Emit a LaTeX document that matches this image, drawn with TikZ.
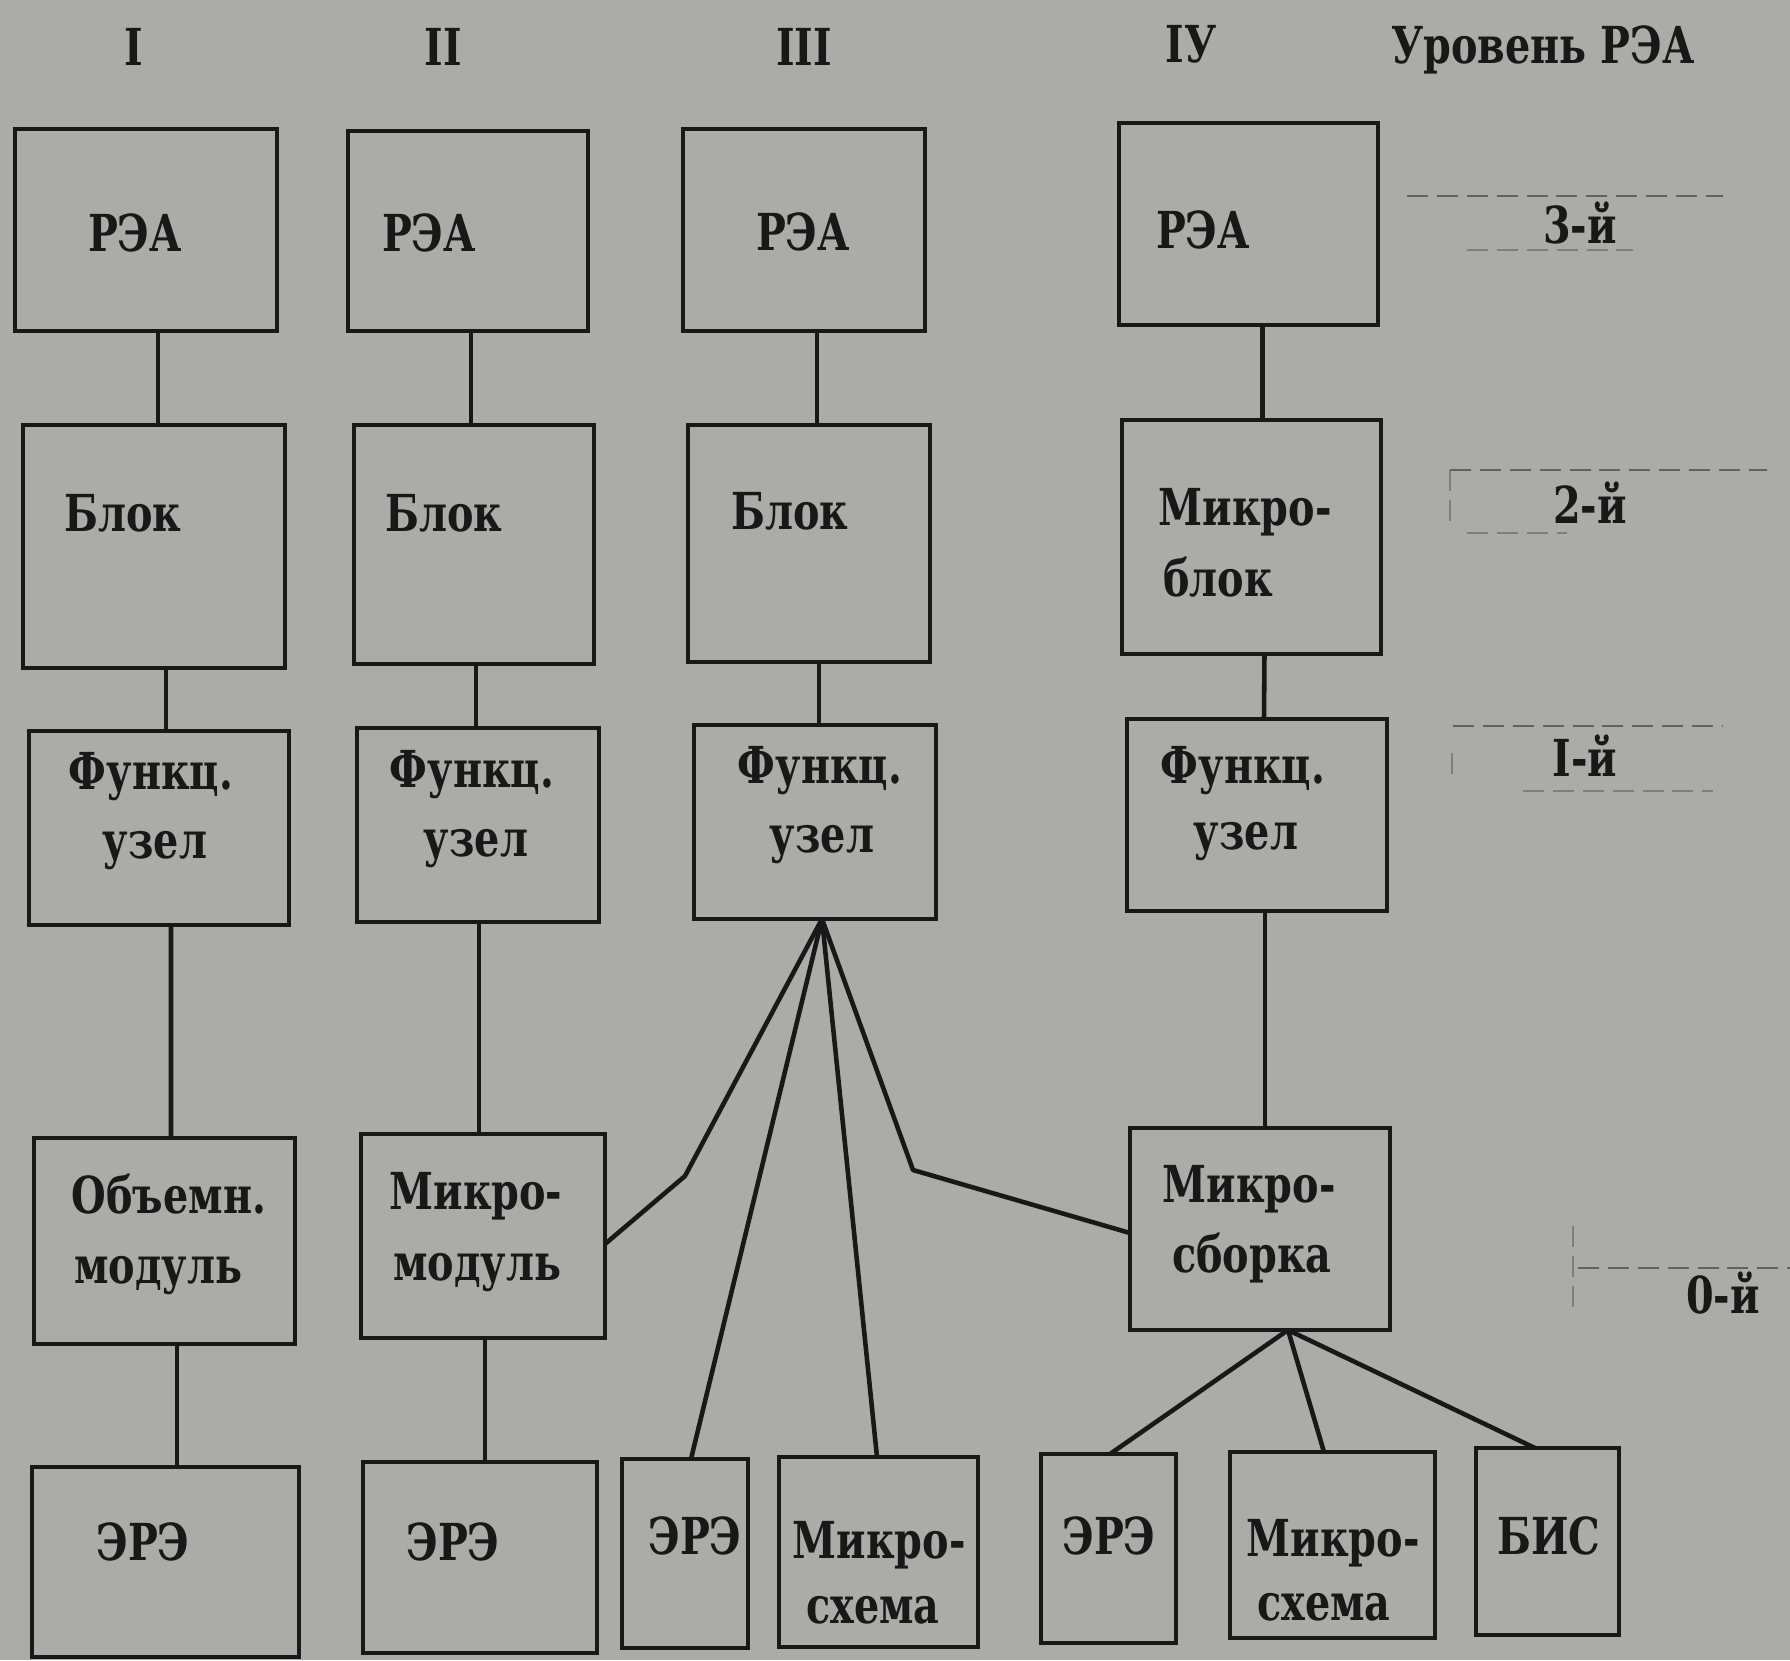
\documentclass[tikz,border=0pt]{standalone}
\usepackage{fontspec}
\newfontfamily\tw[FakeStretch=0.78]{DejaVu Serif}
\usetikzlibrary{fit,calc}
\definecolor{paper}{RGB}{171,171,167}
\definecolor{ink}{RGB}{24,24,24}
\tikzset{
 box/.style={draw=ink, line width=1.3pt, inner sep=0pt, outer sep=0pt, rectangle},
 lbl/.style={anchor=base, inner sep=0pt, text=ink, font=\tw\bfseries\fontsize{14.5}{17}\selectfont},
 link/.style={draw=ink, line width=1.3pt},
 lvl/.style={draw=ink, line width=0.6pt, dash pattern=on 6pt off 2.5pt, opacity=0.5},
 lvlf/.style={lvl, opacity=0.3},
}
\begin{document}
\begin{tikzpicture}[x=0.1mm, y=-0.1mm]
\fill[paper] (0,0) rectangle (1790,1660);
\useasboundingbox (0,0) rectangle (1790,1660);

% headers
\node[lbl] (h1) at (134,65) {I};
\node[lbl] (h2) at (443,65) {II};
\node[lbl] (h3) at (804,65) {III};
\node[lbl] (h4) at (1191,62) {IУ};
\node[lbl] (h5) at (1543,63) {Уровень РЭА};

% column I
\node[box, fit={(15,129) (277,331)}] (r1) {};
\node[box, fit={(23,425) (285,668)}] (b1) {};
\node[box, fit={(29,731) (289,925)}] (f1) {};
\node[box, fit={(34,1138) (295,1344)}] (o1) {};
\node[box, fit={(32,1467) (299,1657)}] (e1) {};
% column II
\node[box, fit={(348,131) (588,331)}] (r2) {};
\node[box, fit={(354,425) (594,664)}] (b2) {};
\node[box, fit={(357,728) (599,922)}] (f2) {};
\node[box, fit={(361,1134) (605,1338)}] (m2) {};
\node[box, fit={(363,1462) (597,1653)}] (e2) {};
% column III
\node[box, fit={(683,129) (925,331)}] (r3) {};
\node[box, fit={(688,425) (930,662)}] (b3) {};
\node[box, fit={(694,725) (936,919)}] (f3) {};
\node[box, fit={(622,1459) (748,1648)}] (e3) {};
\node[box, fit={(779,1457) (978,1647)}] (mc3) {};
% column IV
\node[box, fit={(1119,123) (1378,325)}] (r4) {};
\node[box, fit={(1122,420) (1381,654)}] (mb4) {};
\node[box, fit={(1127,719) (1387,911)}] (f4) {};
\node[box, fit={(1130,1128) (1390,1330)}] (ms4) {};
\node[box, fit={(1041,1454) (1176,1643)}] (e4) {};
\node[box, fit={(1230,1452) (1435,1638)}] (mc4) {};
\node[box, fit={(1476,1448) (1619,1635)}] (bis) {};

% texts column I
\node[lbl] (tr1) at (135,251) {РЭА};
\node[lbl] (tb1) at (123,531) {Блок};
\node[lbl] (tf1a) at (151,789) {Функц.};
\node[lbl] (tf1b) at (155,858) {узел};
\node[lbl] (to1a) at (169,1213) {Объемн.};
\node[lbl] (to1b) at (158,1283) {модуль};
\node[lbl] (te1) at (143,1560) {ЭРЭ};
% texts column II
\node[lbl] (tr2) at (429,251) {РЭА};
\node[lbl] (tb2) at (444,531) {Блок};
\node[lbl] (tf2a) at (472,787) {Функц.};
\node[lbl] (tf2b) at (476,856) {узел};
\node[lbl] (tm2a) at (476,1209) {Микро-};
\node[lbl] (tm2b) at (477,1280) {модуль};
\node[lbl] (te2) at (453,1560) {ЭРЭ};
% texts column III
\node[lbl] (tr3) at (803,250) {РЭА};
\node[lbl] (tb3) at (790,529) {Блок};
\node[lbl] (tf3a) at (820,783) {Функц.};
\node[lbl] (tf3b) at (822,852) {узел};
\node[lbl] (te3) at (695,1554) {ЭРЭ};
\node[lbl] (tmc3a) at (879,1558) {Микро-};
\node[lbl] (tmc3b) at (873,1623) {схема};
% texts column IV
\node[lbl] (tr4) at (1203,248) {РЭА};
\node[lbl] (tmb4a) at (1245,525) {Микро-};
\node[lbl] (tmb4b) at (1218,596) {блок};
\node[lbl] (tf4a) at (1243,783) {Функц.};
\node[lbl] (tf4b) at (1246,849) {узел};
\node[lbl] (tms4a) at (1249,1202) {Микро-};
\node[lbl] (tms4b) at (1252,1272) {сборка};
\node[lbl] (te4) at (1109,1554) {ЭРЭ};
\node[lbl] (tmc4a) at (1333,1556) {Микро-};
\node[lbl] (tmc4b) at (1324,1620) {схема};
\node[lbl] (tbis) at (1549,1554) {БИС};

% level labels
\node[lbl] (l3) at (1580,243) {3-й};
\node[lbl] (l2) at (1590,523) {2-й};
\node[lbl] (l1) at (1585,776) {I-й};
\node[lbl] (l0) at (1723,1313) {0-й};

% level marker lines
\draw[lvl] (1407,196) -- (1723,196);
\draw[lvlf] (1467,250) -- (1633,250);
\draw[lvl] (1450,470) -- (1767,470);
\draw[lvlf] (1450,470) -- (1450,522);
\draw[lvlf] (1467,533) -- (1567,533);
\draw[lvl] (1453,726) -- (1722,726);
\draw[lvlf] (1452,753) -- (1452,775);
\draw[lvlf] (1523,791) -- (1713,791);
\draw[lvl] (1578,1268) -- (1790,1268);
\draw[lvlf] (1573,1226) -- (1573,1311);

% vertical connectors
\draw[link] ($(r1.south)+(12,0)$) -- ($(b1.north)+(4,0)$);
\draw[link] ($(b1.south)+(12,0)$) -- ($(f1.north)+(7,0)$);
\draw[link] ($(f1.south)+(12,0)$) -- ($(o1.north)+(6.5,0)$);
\draw[link] ($(o1.south)+(12.5,0)$) -- ($(e1.north)+(11.5,0)$);
\draw[link] ($(r2.south)+(3,0)$) -- ($(b2.north)+(-3,0)$);
\draw[link] ($(b2.south)+(2,0)$) -- ($(f2.north)+(-2,0)$);
\draw[link] ($(f2.south)+(1,0)$) -- ($(m2.north)+(-4,0)$);
\draw[link] ($(m2.south)+(2,0)$) -- ($(e2.north)+(5,0)$);
\draw[link] ($(r3.south)+(13,0)$) -- ($(b3.north)+(8,0)$);
\draw[link] ($(b3.south)+(10,0)$) -- ($(f3.north)+(4,0)$);
\draw[link] ($(r4.south)+(14,0)$) -- ($(mb4.north)+(11,0)$);
\draw[link] ($(mb4.south)+(13,0)$) -- ($(f4.north)+(7,0)$);
\draw[link] ($(f4.south)+(8,0)$) -- ($(ms4.north)+(5,0)$);

% fan from III functional unit
\coordinate (k1) at (685,1176);
\coordinate (k2) at (913,1170);
\coordinate (fp) at ($(f3.south)+(7,0)$);
\draw[link, line join=round] (fp) -- (k1) -- ($(m2.east)+(0,8)$);
\draw[link] (fp) -- ($(e3.north)+(6,0)$);
\draw[link] (fp) -- ($(mc3.north)+(-1.5,0)$);
\draw[link, line join=round] (fp) -- (k2) -- ($(ms4.west)+(0,4)$);

% fan from microassembly
\coordinate (sp) at ($(ms4.south)+(28,0)$);
\draw[link] (sp) -- ($(e4.north)+(1.5,0)$);
\draw[link] (sp) -- ($(mc4.north)+(-8.5,0)$);
\draw[link] (sp) -- ($(bis.north)+(-12.5,0)$);
\end{tikzpicture}
\end{document}
